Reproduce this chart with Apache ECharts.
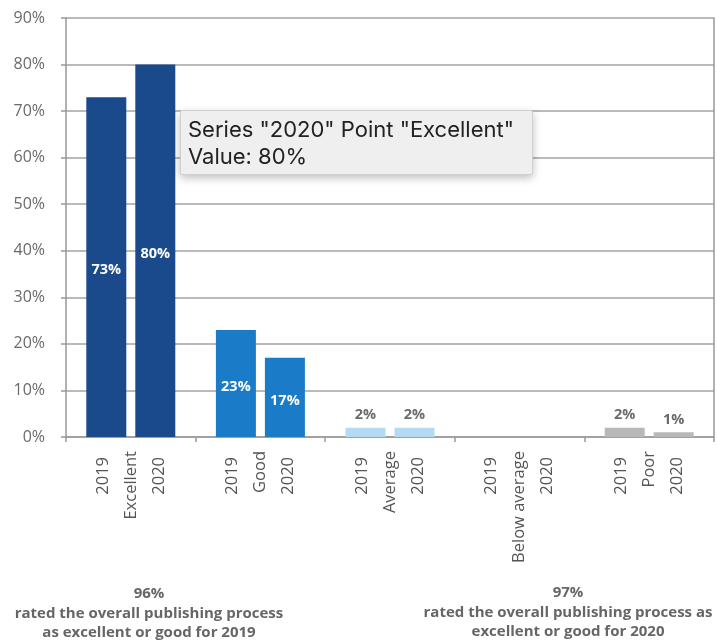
<!DOCTYPE html>
<html>
<head>
<meta charset="utf-8">
<script src="https://cdn.jsdelivr.net/npm/echarts@6/dist/echarts.min.js"></script>
<style>
html,body{margin:0;padding:0;background:#fff;}
#chart{width:717px;height:643px;}
</style>
</head>
<body>
<div id="chart"></div>
<script>
const categories = ['Excellent', 'Good', 'Average', 'Below average', 'Poor'];
const seriesNames = ['2019', '2020'];
const values2019 = [73, 23, 2, 0, 2];
const values2020 = [80, 17, 2, 0, 1];
const categoryColors = ['#1b4a8c', '#1a7bc8', '#b3dbf1', '#cccccc', '#b8b8b8'];
const insideLabelCats = ['Excellent', 'Good'];
const yTicks = [0, 10, 20, 30, 40, 50, 60, 70, 80, 90];
const note2019 = ['96%', 'rated the overall publishing process', 'as excellent or good for 2019'];
const note2020 = ['97%', 'rated the overall publishing process as', 'excellent or good for 2020'];
const tooltipSeries = '2020';
const tooltipCategory = 'Excellent';

const FONT = '"Open Sans", "Noto Sans", sans-serif';

function buildData(vals) {
  return vals.map((v, i) => {
    const inside = insideLabelCats.includes(categories[i]);
    return {
      value: v,
      itemStyle: { color: categoryColors[i] },
      label: inside
        ? { position: 'inside', color: '#ffffff', offset: [0, 3] }
        : { position: 'top', color: '#6b6b6b', distance: 5 }
    };
  });
}

function makeSeries(name, vals) {
  return {
    name: name,
    type: 'bar',
    barWidth: 40,
    barGap: '22.5%',
    data: buildData(vals),
    label: {
      show: true,
      fontFamily: FONT,
      fontWeight: 'bold',
      fontSize: 14.5,
      formatter: p => (p.value ? p.value + '%' : '')
    }
  };
}

const chart = echarts.init(document.getElementById('chart'));
chart.setOption({
  animation: false,
  grid: { left: 66, right: 3, top: 18, bottom: 206, containLabel: false },
  tooltip: {
    trigger: 'item',
    triggerOn: 'none',
    alwaysShowContent: true,
    transitionDuration: 0,
    position: [180, 110],
    backgroundColor: '#efefef',
    borderColor: '#d0d0d0',
    borderWidth: 1,
    borderRadius: 2,
    padding: [5, 9, 4, 7],
    extraCssText: 'box-shadow: 0 3px 8px rgba(0,0,0,0.25); width:335px;',
    textStyle: { fontFamily: 'Inter, "DejaVu Sans", sans-serif', fontSize: 22, color: '#222', lineHeight: 27 },
    formatter: p => 'Series "' + p.seriesName + '" Point "' + p.name + '"<br/>Value: ' + p.value + '%'
  },
  xAxis: {
    type: 'category',
    data: categories,
    axisLine: { show: true, lineStyle: { color: '#999', width: 1.5 } },
    axisTick: { show: true, length: 5, lineStyle: { color: '#999', width: 1.5 } },
    axisLabel: {
      interval: 0,
      rotate: 90,
      margin: 14,
      color: '#555',
      fontFamily: FONT,
      fontSize: 16.5,
      lineHeight: 28,
      formatter: v => '{y|' + seriesNames[0] + '}\n' + v + '\n{y|' + seriesNames[1] + '}',
      rich: { y: { fontFamily: FONT, fontSize: 16.5, color: '#555', lineHeight: 28, padding: [0, 6, 0, 0] } }
    }
  },
  yAxis: [
    {
      type: 'value',
      min: yTicks[0],
      max: yTicks[yTicks.length - 1],
      interval: 10,
      axisLine: { show: true, lineStyle: { color: '#999', width: 1.5 } },
      axisTick: { show: true, length: 5, lineStyle: { color: '#999', width: 1.5 } },
      axisLabel: { formatter: '{value}%', color: '#6a6a6a', fontFamily: FONT, fontSize: 16, margin: 21 },
      splitLine: { show: true, lineStyle: { color: '#a3a3a3', width: 1.5 } }
    },
    {
      type: 'value',
      position: 'right',
      min: yTicks[0],
      max: yTicks[yTicks.length - 1],
      interval: 10,
      axisLine: { show: true, lineStyle: { color: '#999', width: 1.5 } },
      axisTick: { show: false },
      axisLabel: { show: false },
      splitLine: { show: false }
    }
  ],
  series: [makeSeries(seriesNames[0], values2019), makeSeries(seriesNames[1], values2020)],
  graphic: [
    {
      type: 'text', x: 149, y: 584,
      style: {
        text: note2019.join('\n'), align: 'center', verticalAlign: 'top',
        fontFamily: FONT, fontWeight: 'bold', fontSize: 15, lineHeight: 19.5, fill: '#666'
      }
    },
    {
      type: 'text', x: 568, y: 583,
      style: {
        text: note2020.join('\n'), align: 'center', verticalAlign: 'top',
        fontFamily: FONT, fontWeight: 'bold', fontSize: 15, lineHeight: 19.5, fill: '#666'
      }
    }
  ]
});

chart.dispatchAction({
  type: 'showTip',
  seriesIndex: seriesNames.indexOf(tooltipSeries),
  dataIndex: categories.indexOf(tooltipCategory)
});
</script>
</body>
</html>
